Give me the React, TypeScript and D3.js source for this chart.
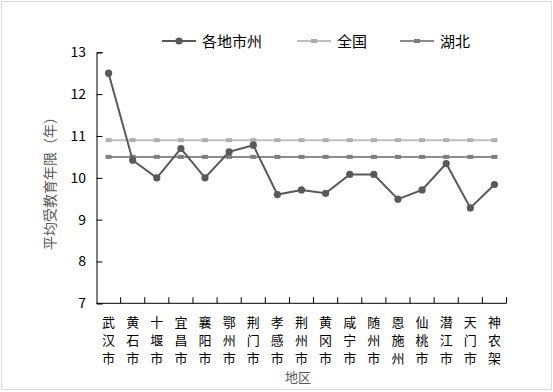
import * as d3 from "d3";
import { useEffect, useRef } from "react";

const regions = [
  "武汉市", "黄石市", "十堰市", "宜昌市", "襄阳市", "鄂州市", "荆门市", "孝感市", "荆州市",
  "黄冈市", "咸宁市", "随州市", "恩施州", "仙桃市", "潜江市", "天门市", "神农架",
];
const cityYears = [12.5, 10.42, 10.0, 10.7, 10.0, 10.62, 10.78, 9.6, 9.71, 9.63, 10.08, 10.08, 9.49, 9.71, 10.34, 9.28, 9.84];
const nationYears = regions.map(() => 10.9);
const hubeiYears = regions.map(() => 10.5);
const yTicks = [7, 8, 9, 10, 11, 12, 13];

const FONT = "'Noto Sans CJK SC', 'Noto Sans', sans-serif";

export default function App() {
  const ref = useRef<SVGSVGElement>(null);

  useEffect(() => {
    if (!ref.current) return;
    const svg = d3.select(ref.current);
    svg.selectAll("*").remove();

    const plot = { left: 96.5, right: 506.5, top: 52.3, bottom: 303.3 };

    // outer frame
    svg.append("rect")
      .attr("x", 1.5).attr("y", 1.5)
      .attr("width", 550).attr("height", 388)
      .attr("fill", "#fff")
      .attr("stroke", "#d9d9d9");

    const x = d3.scaleBand<string>().domain(regions).range([plot.left, plot.right]);
    const cx = (d: string) => (x(d) ?? 0) + x.bandwidth() / 2;
    const y = d3.scaleLinear().domain([7, 13]).range([plot.bottom, plot.top]);

    // Y axis
    const yAxis = svg.append("g")
      .attr("transform", `translate(${plot.left},0)`)
      .call(d3.axisRight(y).tickValues(yTicks).tickSize(6).tickFormat(() => ""));
    yAxis.select(".domain").attr("stroke", "#000");
    yAxis.selectAll("line").attr("stroke", "#000");

    svg.append("g")
      .selectAll("text")
      .data(yTicks)
      .join("text")
      .attr("x", 86)
      .attr("y", (d) => y(d))
      .attr("dy", "0.35em")
      .attr("text-anchor", "end")
      .attr("font-family", FONT)
      .attr("font-size", 14)
      .attr("fill", "#000")
      .text((d) => d);

    // X axis
    svg.append("line")
      .attr("x1", plot.left).attr("x2", plot.right)
      .attr("y1", plot.bottom).attr("y2", plot.bottom)
      .attr("stroke", "#000");
    const bounds = regions.map((r) => (x(r) ?? 0) + x.bandwidth());
    svg.append("g")
      .selectAll("line")
      .data(bounds)
      .join("line")
      .attr("x1", (d) => d).attr("x2", (d) => d)
      .attr("y1", plot.bottom).attr("y2", plot.bottom - 6)
      .attr("stroke", "#000");

    // category labels, one character per row
    const labels = svg.append("g");
    regions.forEach((r) => {
      r.split("").forEach((ch, i) => {
        labels.append("text")
          .attr("x", cx(r))
          .attr("y", 322 + i * 17.8)
          .attr("dy", "0.38em")
          .attr("text-anchor", "middle")
          .attr("font-family", FONT)
          .attr("font-size", 13)
          .attr("fill", "#000")
          .text(ch);
      });
    });

    // axis titles
    svg.append("text")
      .attr("x", 298).attr("y", 377)
      .attr("dy", "0.38em")
      .attr("text-anchor", "middle")
      .attr("font-family", FONT)
      .attr("font-size", 13)
      .attr("fill", "#595959")
      .text("地区");

    svg.append("text")
      .attr("transform", "rotate(-90)")
      .attr("x", -180).attr("y", 50)
      .attr("dy", "0.38em")
      .attr("text-anchor", "middle")
      .attr("font-family", FONT)
      .attr("font-size", 14)
      .attr("fill", "#595959")
      .text("平均受教育年限（年）");

    // reference lines
    const refLine = (vals: number[], color: string, markColor: string) => {
      const line = d3.line<number>().x((_, i) => cx(regions[i])).y((d) => y(d));
      svg.append("path")
        .datum(vals)
        .attr("fill", "none")
        .attr("stroke", color)
        .attr("stroke-width", 2)
        .attr("d", line);
      svg.append("g")
        .selectAll("rect")
        .data(vals)
        .join("rect")
        .attr("x", (_, i) => cx(regions[i]) - 3)
        .attr("y", (d) => y(d) - 2)
        .attr("width", 6).attr("height", 4)
        .attr("fill", markColor);
    };
    refLine(nationYears, "#bfbfbf", "#afafaf");
    refLine(hubeiYears, "#8c8c8c", "#7f7f7f");

    // city series
    const cityLine = d3.line<number>().x((_, i) => cx(regions[i])).y((d) => y(d));
    svg.append("path")
      .datum(cityYears)
      .attr("fill", "none")
      .attr("stroke", "#595959")
      .attr("stroke-width", 2)
      .attr("d", cityLine);
    svg.append("g")
      .selectAll("circle")
      .data(cityYears)
      .join("circle")
      .attr("cx", (_, i) => cx(regions[i]))
      .attr("cy", (d) => y(d))
      .attr("r", 3.6)
      .attr("fill", "#595959");

    // legend
    const legendItems = [
      { name: "各地市州", x: 162, color: "#595959", mark: "circle" },
      { name: "全国", x: 297, color: "#bfbfbf", mark: "rect" },
      { name: "湖北", x: 400, color: "#8c8c8c", mark: "rect" },
    ];
    const lg = svg.append("g");
    legendItems.forEach((it) => {
      lg.append("line")
        .attr("x1", it.x).attr("x2", it.x + 34)
        .attr("y1", 41).attr("y2", 41)
        .attr("stroke", it.color)
        .attr("stroke-width", 2);
      if (it.mark === "circle") {
        lg.append("circle").attr("cx", it.x + 17).attr("cy", 41).attr("r", 3.6).attr("fill", it.color);
      } else {
        lg.append("rect").attr("x", it.x + 14).attr("y", 39).attr("width", 6).attr("height", 4)
          .attr("fill", d3.color(it.color)!.darker(0.3).toString());
      }
      lg.append("text")
        .attr("x", it.x + 40).attr("y", 41)
        .attr("dy", "0.38em")
        .attr("font-family", FONT)
        .attr("font-size", 15)
        .attr("fill", "#000")
        .text(it.name);
    });
  }, []);

  return (
    <svg
      ref={ref}
      width={553}
      height={392}
      style={{ position: "absolute", left: 0, top: 0, background: "#fff" }}
    />
  );
}
